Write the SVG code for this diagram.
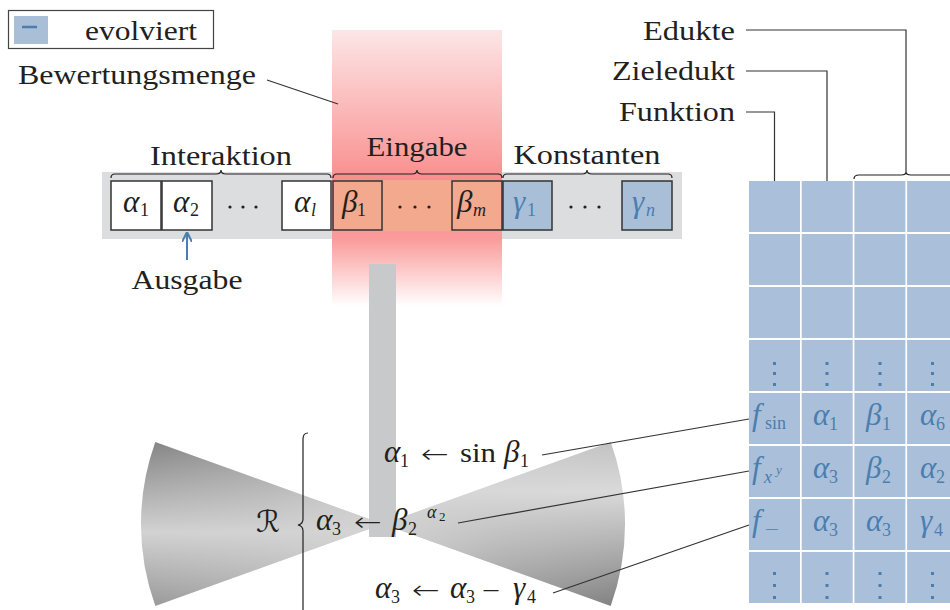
<svg xmlns="http://www.w3.org/2000/svg" width="950" height="610" viewBox="0 0 950 610">
<style>
text{font-family:"Liberation Serif","Times New Roman",serif;fill:#231f20}
.lbl{font-size:27px}
.g{font-size:31px;font-style:italic}
.s{font-size:18px}
.si{font-size:18px;font-style:italic}
.op{font-family:"DejaVu Sans",sans-serif;font-size:26px;font-weight:200}
.b{fill:#4b7eae}
.cell{stroke:#333;stroke-width:1.5}
.w{fill:#fff}
.o{fill:#f3a98d}
.bl{fill:#a9bfd8}
.tc{fill:#aac0da}
.ln{stroke:#333;stroke-width:1.2;fill:none}
.br{stroke:#231f20;stroke-width:1.2;fill:none}
.dot{fill:#231f20}
.vd{fill:#4b7eae}
</style>
<defs>
<linearGradient id="red" x1="0" y1="30" x2="0" y2="306" gradientUnits="userSpaceOnUse">
<stop offset="0" stop-color="#fde6e6"/>
<stop offset="0.45" stop-color="#fa9e9e"/>
<stop offset="0.55" stop-color="#f98c8c"/>
<stop offset="0.76" stop-color="#fa9c9c"/>
<stop offset="1" stop-color="#ffffff"/>
</linearGradient>
<linearGradient id="lw" x1="0" y1="442" x2="0" y2="606" gradientUnits="userSpaceOnUse">
<stop offset="0" stop-color="#858585"/>
<stop offset="0.55" stop-color="#d2d2d2"/>
<stop offset="1" stop-color="#9a9a9a"/>
</linearGradient>
<linearGradient id="rw" x1="0" y1="442" x2="0" y2="606" gradientUnits="userSpaceOnUse">
<stop offset="0" stop-color="#c2c2c2"/>
<stop offset="0.3" stop-color="#dadada"/>
<stop offset="1" stop-color="#828282"/>
</linearGradient>
<radialGradient id="ap" cx="383" cy="524" r="242" gradientUnits="userSpaceOnUse">
<stop offset="0" stop-color="#d4d4d4" stop-opacity="0.9"/>
<stop offset="0.5" stop-color="#d4d4d4" stop-opacity="0.3"/>
<stop offset="1" stop-color="#d4d4d4" stop-opacity="0"/>
</radialGradient>
<marker id="ah" viewBox="0 0 10 10" refX="9" refY="5" markerWidth="5" markerHeight="5" orient="auto-start-reverse">
<path d="M0,0 L10,5 L0,10" fill="none" stroke="#4b7eae" stroke-width="2"/>
</marker>
</defs>

<g id="legend">
<rect x="8.5" y="10.5" width="205" height="38" fill="#fff" stroke="#444" stroke-width="1.2"/>
<rect x="14" y="16" width="34" height="28" class="bl"/>
<line x1="22" y1="27" x2="37" y2="27" stroke="#4b7eae" stroke-width="2.5"/>
<text x="85" y="40" class="lbl" textLength="112" lengthAdjust="spacingAndGlyphs">evolviert</text>
</g>

<g id="register">
<rect x="102" y="172" width="580" height="67" fill="#dcdddf"/>
</g>

<g id="bewertungsmenge">
<rect x="332" y="30" width="170" height="276" fill="url(#red)"/>
<rect x="332" y="180" width="170" height="51" class="o"/>
<text x="18" y="84" class="lbl" textLength="238" lengthAdjust="spacingAndGlyphs">Bewertungsmenge</text>
</g>

<g id="cells">
<rect x="111" y="181" width="50" height="49" class="cell w"/>
<rect x="162" y="181" width="50" height="49" class="cell w"/>
<rect x="282" y="181" width="49" height="49" class="cell w"/>
<rect x="333" y="181" width="49" height="49" class="cell o"/>
<rect x="452" y="181" width="50" height="49" class="cell o"/>
<rect x="503" y="181" width="49" height="49" class="cell bl"/>
<rect x="622" y="181" width="50" height="49" class="cell bl"/>
<text x="123" y="212" class="g">α</text><text x="140" y="216" class="s">1</text>
<text x="173" y="212" class="g">α</text><text x="190" y="216" class="s">2</text>
<text x="294" y="212" class="g">α</text><text x="311" y="216" class="si">l</text>
<text x="342" y="212" class="g">β</text><text x="357" y="216" class="s">1</text>
<text x="457" y="212" class="g">β</text><text x="473" y="216" class="si">m</text>
<text x="513" y="212" class="g b">γ</text><text x="527" y="216" class="s b">1</text>
<text x="632" y="212" class="g b">γ</text><text x="646" y="216" class="si b">n</text>
<circle cx="230" cy="207" r="1.6" class="dot"/><circle cx="243" cy="207" r="1.6" class="dot"/><circle cx="256" cy="207" r="1.6" class="dot"/>
<circle cx="400" cy="207" r="1.6" class="dot"/><circle cx="415" cy="207" r="1.6" class="dot"/><circle cx="429" cy="207" r="1.6" class="dot"/>
<circle cx="571" cy="207" r="1.6" class="dot"/><circle cx="585" cy="207" r="1.6" class="dot"/><circle cx="599" cy="207" r="1.6" class="dot"/>
</g>

<g id="braces">
<path class="br" d="M111,178 Q111,174 115,174 L216,174 Q221,174 221,170 Q221,174 226,174 L327,174 Q331,174 331,178"/>
<path class="br" d="M333,178 Q333,174 337,174 L412,174 Q417,174 417,170 Q417,174 422,174 L498,174 Q502,174 502,178"/>
<path class="br" d="M503,178 Q503,174 507,174 L582,174 Q587,174 587,170 Q587,174 592,174 L668,174 Q672,174 672,178"/>
<text x="221" y="165" class="lbl" text-anchor="middle" textLength="142" lengthAdjust="spacingAndGlyphs">Interaktion</text>
<text x="417" y="156" class="lbl" text-anchor="middle" textLength="101" lengthAdjust="spacingAndGlyphs">Eingabe</text>
<text x="587" y="164" class="lbl" text-anchor="middle" textLength="147" lengthAdjust="spacingAndGlyphs">Konstanten</text>
</g>

<g id="ausgabe">
<text x="187" y="289" class="lbl" text-anchor="middle" textLength="111" lengthAdjust="spacingAndGlyphs">Ausgabe</text>
</g>

<g id="bowtie">
<path d="M383,524 L155.3,442 A242,242 0 0 0 155.3,606 Z" fill="url(#lw)"/>
<path d="M383,524 L155.3,442 A242,242 0 0 0 155.3,606 Z" fill="url(#ap)"/>
<path d="M383,524 L610.7,442 A242,242 0 0 1 610.7,606 Z" fill="url(#rw)"/>
<path d="M383,524 L610.7,442 A242,242 0 0 1 610.7,606 Z" fill="url(#ap)"/>
</g>

<g id="stem">
<rect x="369" y="264" width="27" height="273" fill="#c8c9cb"/>
</g>

<g id="reactions">
<path class="br" d="M308,433 Q303,433 303,439 L303,519 Q303,524 298,525 Q303,526 303,531 L303,612"/>
<text x="256" y="532" style="font-family:'DejaVu Serif','DejaVu Sans',serif;font-size:30px;font-style:italic">ℛ</text>
<text x="384" y="462" class="g">α</text><text x="400" y="467" class="s">1</text>
<text x="421" y="463" class="op" textLength="28" lengthAdjust="spacingAndGlyphs">←</text>
<text x="460" y="462" class="lbl" textLength="36" lengthAdjust="spacingAndGlyphs">sin</text>
<text x="504" y="462" class="g">β</text><text x="520" y="467" class="s">1</text>
<text x="316" y="530" class="g">α</text><text x="332" y="535" class="s">3</text>
<text x="354" y="531" class="op" textLength="28" lengthAdjust="spacingAndGlyphs">←</text>
<text x="392" y="530" class="g">β</text><text x="408" y="535" class="s">2</text>
<text x="427" y="518" class="si">α</text><text x="439" y="521" style="font-size:13px">2</text>
<text x="375" y="598" class="g">α</text><text x="391" y="603" class="s">3</text>
<text x="412" y="599" class="op" textLength="28" lengthAdjust="spacingAndGlyphs">←</text>
<text x="450" y="598" class="g">α</text><text x="466" y="603" class="s">3</text>
<text x="481" y="599" class="op" textLength="20" lengthAdjust="spacingAndGlyphs">−</text>
<text x="513" y="598" class="g">γ</text><text x="527" y="603" class="s">4</text>
</g>

<g id="table">
<rect x="749" y="181" width="51" height="51" class="tc"/><rect x="801.7" y="181" width="51" height="51" class="tc"/><rect x="854.4" y="181" width="51" height="51" class="tc"/><rect x="907.1" y="181" width="51" height="51" class="tc"/>
<rect x="749" y="234" width="51" height="51" class="tc"/><rect x="801.7" y="234" width="51" height="51" class="tc"/><rect x="854.4" y="234" width="51" height="51" class="tc"/><rect x="907.1" y="234" width="51" height="51" class="tc"/>
<rect x="749" y="287" width="51" height="51" class="tc"/><rect x="801.7" y="287" width="51" height="51" class="tc"/><rect x="854.4" y="287" width="51" height="51" class="tc"/><rect x="907.1" y="287" width="51" height="51" class="tc"/>
<rect x="749" y="340" width="51" height="51" class="tc"/><rect x="801.7" y="340" width="51" height="51" class="tc"/><rect x="854.4" y="340" width="51" height="51" class="tc"/><rect x="907.1" y="340" width="51" height="51" class="tc"/>
<rect x="749" y="393" width="51" height="51" class="tc"/><rect x="801.7" y="393" width="51" height="51" class="tc"/><rect x="854.4" y="393" width="51" height="51" class="tc"/><rect x="907.1" y="393" width="51" height="51" class="tc"/>
<rect x="749" y="446" width="51" height="51" class="tc"/><rect x="801.7" y="446" width="51" height="51" class="tc"/><rect x="854.4" y="446" width="51" height="51" class="tc"/><rect x="907.1" y="446" width="51" height="51" class="tc"/>
<rect x="749" y="499" width="51" height="51" class="tc"/><rect x="801.7" y="499" width="51" height="51" class="tc"/><rect x="854.4" y="499" width="51" height="51" class="tc"/><rect x="907.1" y="499" width="51" height="51" class="tc"/>
<rect x="749" y="552" width="51" height="51" class="tc"/><rect x="801.7" y="552" width="51" height="51" class="tc"/><rect x="854.4" y="552" width="51" height="51" class="tc"/><rect x="907.1" y="552" width="51" height="51" class="tc"/>
<g class="vd">
<rect x="773" y="362" width="3" height="3"/><rect x="773" y="372" width="3" height="3"/><rect x="773" y="383" width="3" height="3"/>
<rect x="825.5" y="362" width="3" height="3"/><rect x="825.5" y="372" width="3" height="3"/><rect x="825.5" y="383" width="3" height="3"/>
<rect x="878.5" y="362" width="3" height="3"/><rect x="878.5" y="372" width="3" height="3"/><rect x="878.5" y="383" width="3" height="3"/>
<rect x="931" y="362" width="3" height="3"/><rect x="931" y="372" width="3" height="3"/><rect x="931" y="383" width="3" height="3"/>
<rect x="773" y="572" width="3" height="3"/><rect x="773" y="584" width="3" height="3"/><rect x="773" y="596" width="3" height="3"/>
<rect x="825.5" y="572" width="3" height="3"/><rect x="825.5" y="584" width="3" height="3"/><rect x="825.5" y="596" width="3" height="3"/>
<rect x="878.5" y="572" width="3" height="3"/><rect x="878.5" y="584" width="3" height="3"/><rect x="878.5" y="596" width="3" height="3"/>
<rect x="931" y="572" width="3" height="3"/><rect x="931" y="584" width="3" height="3"/><rect x="931" y="596" width="3" height="3"/>
</g>
<text x="752" y="425" class="g b">f</text><text x="765" y="429" class="s b">sin</text>
<text x="813" y="425" class="g b">α</text><text x="829" y="430" class="s b">1</text>
<text x="866" y="425" class="g b">β</text><text x="882" y="430" class="s b">1</text>
<text x="920" y="425" class="g b">α</text><text x="936" y="430" class="s b">6</text>
<text x="752" y="478" class="g b">f</text><text x="764" y="483" class="si b">x</text><text x="776" y="474" class="b" style="font-size:13px;font-style:italic">y</text>
<text x="813" y="478" class="g b">α</text><text x="829" y="483" class="s b">3</text>
<text x="866" y="478" class="g b">β</text><text x="882" y="483" class="s b">2</text>
<text x="920" y="478" class="g b">α</text><text x="936" y="483" class="s b">2</text>
<text x="752" y="531" class="g b">f</text><text x="764" y="535" class="b" style="font-family:'DejaVu Sans',sans-serif;font-size:19px;font-weight:200">−</text>
<text x="813" y="531" class="g b">α</text><text x="829" y="536" class="s b">3</text>
<text x="866" y="531" class="g b">α</text><text x="882" y="536" class="s b">3</text>
<text x="920" y="531" class="g b">γ</text><text x="934" y="536" class="s b">4</text>
<path class="br" d="M854,179 Q854,175 859,175 L901,175 Q906,175 906,172 Q906,175 911,175 L953,175 Q958,175 958,179"/>
</g>

<g id="labels">
<text x="735" y="40" class="lbl" text-anchor="end" textLength="92" lengthAdjust="spacingAndGlyphs">Edukte</text>
<text x="735" y="80" class="lbl" text-anchor="end" textLength="123" lengthAdjust="spacingAndGlyphs">Zieledukt</text>
<text x="735" y="121" class="lbl" text-anchor="end" textLength="116" lengthAdjust="spacingAndGlyphs">Funktion</text>
</g>

<g id="connectors">
<line class="ln" x1="267" y1="80" x2="338" y2="104"/>
<line x1="187" y1="260" x2="187" y2="233" stroke="#4b7eae" stroke-width="2" marker-end="url(#ah)"/>
<line class="ln" x1="542" y1="455" x2="749" y2="419"/>
<line class="ln" x1="458" y1="523" x2="749" y2="471"/>
<line class="ln" x1="553" y1="593" x2="749" y2="525"/>
<polyline class="ln" points="746,30 906,30 906,172"/>
<polyline class="ln" points="746,71 827,71 827,181"/>
<polyline class="ln" points="746,112 774.5,112 774.5,181"/>
</g>
</svg>
